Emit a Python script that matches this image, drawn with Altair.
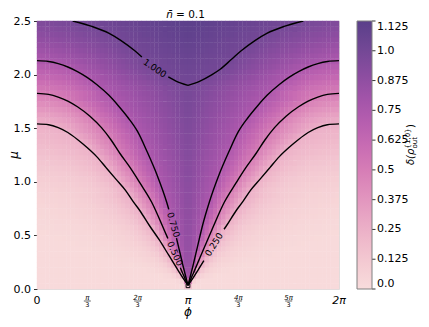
import math
import altair as alt
import pandas as pd

PI = math.pi

# ---------------- data ----------------
# heat values: rows are mu cell centres, columns are |phi - pi| cell centres in degrees
# (the field is mirror-symmetric about phi = pi)
mu_rows = [0.025, 0.075, 0.125, 0.175, 0.225, 0.275, 0.325, 0.375, 0.425, 0.475,
           0.525, 0.575, 0.625, 0.675, 0.725, 0.775, 0.825, 0.875, 0.925, 0.975,
           1.025, 1.075, 1.125, 1.175, 1.225, 1.275, 1.325, 1.375, 1.425, 1.475,
           1.525, 1.575, 1.625, 1.675, 1.725, 1.775, 1.825, 1.875, 1.925, 1.975,
           2.025, 2.075, 2.125, 2.175, 2.225, 2.275, 2.325, 2.375, 2.425, 2.475]
d_cols_deg = [2.5, 7.5, 12.5, 17.5, 22.5, 27.5, 32.5, 37.5, 42.5, 47.5, 52.5, 57.5,
              62.5, 67.5, 72.5, 77.5, 82.5, 87.5, 92.5, 97.5, 102.5, 107.5, 112.5, 117.5,
              122.5, 127.5, 132.5, 137.5, 142.5, 147.5, 152.5, 157.5, 162.5, 167.5, 172.5, 177.5]
heat_rows = [
    [0.15, 0.012] + [0.01] * 34,
    [0.50, 0.065, 0.024, 0.013] + [0.01] * 32,
    [0.771, 0.262, 0.103, 0.054, 0.033, 0.022, 0.015, 0.012] + [0.01] * 28,
    [0.81, 0.529, 0.227, 0.122, 0.075, 0.052, 0.037, 0.028, 0.021, 0.017, 0.014, 0.012, 0.011] + [0.01] * 23,
    [0.827, 0.675, 0.406, 0.213, 0.133, 0.09, 0.065, 0.051, 0.04, 0.031, 0.026, 0.021, 0.018, 0.015, 0.013,
     0.012, 0.011] + [0.01] * 19,
    [0.838, 0.754, 0.537, 0.335, 0.204, 0.14, 0.101, 0.076, 0.059, 0.05, 0.041, 0.033, 0.029, 0.024, 0.021,
     0.018, 0.016, 0.014, 0.013, 0.012, 0.011, 0.011] + [0.01] * 14,
    [0.845, 0.775, 0.631, 0.453, 0.289, 0.199, 0.146, 0.109, 0.086, 0.07, 0.057, 0.05, 0.042, 0.035, 0.031,
     0.027, 0.024, 0.021, 0.019, 0.017, 0.015, 0.014, 0.013, 0.012, 0.011, 0.011] + [0.01] * 10,
    [0.851, 0.79, 0.699, 0.54, 0.394, 0.254, 0.195, 0.148, 0.116, 0.095, 0.077, 0.064, 0.056, 0.049, 0.043,
     0.037, 0.033, 0.029, 0.026, 0.023, 0.021, 0.019, 0.017, 0.015, 0.014, 0.014, 0.013, 0.012, 0.012, 0.011,
     0.011, 0.01, 0.01, 0.01, 0.01, 0.01],
    [0.855, 0.802, 0.75, 0.612, 0.478, 0.35, 0.241, 0.192, 0.15, 0.123, 0.101, 0.083, 0.072, 0.061, 0.055,
     0.048, 0.043, 0.038, 0.034, 0.031, 0.028, 0.025, 0.022, 0.021, 0.019, 0.017, 0.016, 0.015, 0.014, 0.013,
     0.013, 0.012, 0.012, 0.011, 0.011, 0.01],
    [0.857, 0.811, 0.764, 0.665, 0.542, 0.429, 0.32, 0.234, 0.19, 0.152, 0.128, 0.106, 0.091, 0.077, 0.068,
     0.059, 0.054, 0.049, 0.044, 0.039, 0.035, 0.033, 0.029, 0.027, 0.024, 0.022, 0.021, 0.019, 0.018, 0.016,
     0.015, 0.015, 0.014, 0.013, 0.013, 0.012],
    [0.86, 0.824, 0.776, 0.708, 0.598, 0.49, 0.392, 0.294, 0.228, 0.189, 0.154, 0.132, 0.11, 0.096, 0.083,
     0.073, 0.064, 0.059, 0.053, 0.049, 0.044, 0.04, 0.036, 0.033, 0.03, 0.028, 0.026, 0.024, 0.022, 0.021,
     0.02, 0.019, 0.017, 0.016, 0.015, 0.015],
    [0.865, 0.826, 0.787, 0.744, 0.643, 0.543, 0.449, 0.36, 0.271, 0.223, 0.187, 0.155, 0.135, 0.115, 0.101,
     0.088, 0.077, 0.07, 0.062, 0.059, 0.053, 0.048, 0.044, 0.041, 0.037, 0.034, 0.032, 0.03, 0.027, 0.026,
     0.024, 0.022, 0.021, 0.02, 0.019, 0.018],
    [0.872, 0.836, 0.8, 0.762, 0.69, 0.6, 0.51, 0.428, 0.349, 0.269, 0.226, 0.193, 0.16, 0.142, 0.124,
     0.107, 0.097, 0.085, 0.078, 0.07, 0.063, 0.058, 0.054, 0.05, 0.046, 0.043, 0.039, 0.036, 0.034, 0.032,
     0.03, 0.028, 0.026, 0.024, 0.023, 0.021],
    [0.874, 0.84, 0.806, 0.772, 0.723, 0.64, 0.557, 0.478, 0.405, 0.331, 0.258, 0.224, 0.194, 0.164, 0.146,
     0.129, 0.112, 0.1, 0.092, 0.082, 0.075, 0.068, 0.061, 0.057, 0.054, 0.05, 0.047, 0.044, 0.041, 0.038,
     0.035, 0.033, 0.031, 0.029, 0.027, 0.026],
    [0.881, 0.85, 0.82, 0.79, 0.75, 0.674, 0.598, 0.52, 0.451, 0.384, 0.317, 0.249, 0.222, 0.195, 0.167,
     0.149, 0.134, 0.117, 0.104, 0.097, 0.087, 0.079, 0.072, 0.067, 0.061, 0.057, 0.054, 0.051, 0.048, 0.045,
     0.042, 0.039, 0.036, 0.034, 0.032, 0.03],
    [0.884, 0.854, 0.823, 0.792, 0.761, 0.71, 0.635, 0.563, 0.494, 0.431, 0.368, 0.305, 0.247, 0.222, 0.196,
     0.171, 0.151, 0.137, 0.123, 0.11, 0.101, 0.092, 0.084, 0.077, 0.071, 0.066, 0.06, 0.057, 0.054, 0.051,
     0.048, 0.046, 0.044, 0.042, 0.04, 0.039],
    [0.886, 0.857, 0.828, 0.799, 0.77, 0.731, 0.664, 0.599, 0.532, 0.471, 0.412, 0.353, 0.295, 0.244, 0.221,
     0.197, 0.174, 0.154, 0.141, 0.128, 0.114, 0.104, 0.097, 0.089, 0.081, 0.075, 0.07, 0.065, 0.06, 0.057,
     0.055, 0.052, 0.05, 0.048, 0.047, 0.046],
    [0.887, 0.86, 0.833, 0.806, 0.779, 0.752, 0.692, 0.63, 0.569, 0.507, 0.451, 0.397, 0.342, 0.287, 0.243,
     0.221, 0.198, 0.176, 0.156, 0.144, 0.132, 0.119, 0.107, 0.101, 0.094, 0.088, 0.079, 0.074, 0.069, 0.064,
     0.06, 0.058, 0.056, 0.054, 0.053, 0.052],
    [0.892, 0.867, 0.842, 0.817, 0.791, 0.766, 0.729, 0.671, 0.613, 0.555, 0.497, 0.442, 0.388, 0.333, 0.278,
     0.234, 0.206, 0.183, 0.163, 0.147, 0.133, 0.121, 0.111, 0.103, 0.096, 0.090, 0.086, 0.081, 0.078, 0.075,
     0.073, 0.071, 0.069, 0.068, 0.066, 0.065],
    [0.898, 0.874, 0.849, 0.825, 0.801, 0.777, 0.752, 0.701, 0.647, 0.593, 0.539, 0.486, 0.435, 0.384, 0.332,
     0.281, 0.238, 0.211, 0.188, 0.168, 0.152, 0.139, 0.128, 0.118, 0.110, 0.103, 0.098, 0.093, 0.089, 0.086,
     0.083, 0.080, 0.078, 0.077, 0.075, 0.074],
    [0.903, 0.88, 0.856, 0.833, 0.809, 0.786, 0.762, 0.727, 0.677, 0.627, 0.577, 0.527, 0.477, 0.429, 0.38,
     0.332, 0.283, 0.241, 0.215, 0.194, 0.175, 0.160, 0.147, 0.136, 0.127, 0.120, 0.113, 0.108, 0.104, 0.1,
     0.097, 0.094, 0.092, 0.09, 0.088, 0.087],
    [0.909, 0.886, 0.863, 0.841, 0.818, 0.795, 0.773, 0.75, 0.703, 0.657, 0.61, 0.563, 0.516, 0.47, 0.424,
     0.378, 0.332, 0.286, 0.244, 0.220, 0.199, 0.182, 0.168, 0.156, 0.146, 0.138, 0.130, 0.124, 0.119, 0.115,
     0.112, 0.109, 0.106, 0.104, 0.102, 0.101],
    [0.909, 0.888, 0.867, 0.846, 0.825, 0.804, 0.783, 0.762, 0.730, 0.685, 0.641, 0.596, 0.552, 0.508, 0.464,
     0.42, 0.376, 0.332, 0.288, 0.247, 0.224, 0.206, 0.19, 0.177, 0.165, 0.156, 0.148, 0.142, 0.136, 0.131,
     0.127, 0.124, 0.121, 0.119, 0.117, 0.116],
    [0.915, 0.894, 0.874, 0.854, 0.833, 0.813, 0.793, 0.773, 0.752, 0.712, 0.67, 0.628, 0.587, 0.545, 0.503,
     0.461, 0.418, 0.376, 0.334, 0.291, 0.249, 0.229, 0.212, 0.197, 0.185, 0.175, 0.167, 0.16, 0.153, 0.148,
     0.144, 0.141, 0.138, 0.135, 0.133, 0.131],
    [0.92, 0.9, 0.881, 0.861, 0.841, 0.822, 0.802, 0.782, 0.762, 0.736, 0.697, 0.657, 0.618, 0.579, 0.539,
     0.5, 0.458, 0.417, 0.376, 0.335, 0.294, 0.252, 0.233, 0.218, 0.205, 0.194, 0.185, 0.178, 0.171, 0.166,
     0.162, 0.158, 0.155, 0.152, 0.150, 0.148],
    [0.925, 0.906, 0.887, 0.868, 0.849, 0.83, 0.811, 0.792, 0.773, 0.753, 0.72, 0.682, 0.645, 0.608, 0.571,
     0.533, 0.496, 0.457, 0.419, 0.38, 0.341, 0.302, 0.264, 0.240, 0.226, 0.215, 0.205, 0.197, 0.19, 0.185,
     0.18, 0.176, 0.173, 0.17, 0.167, 0.165],
    [0.931, 0.912, 0.894, 0.875, 0.857, 0.838, 0.82, 0.801, 0.783, 0.764, 0.742, 0.706, 0.67, 0.634, 0.599,
     0.563, 0.527, 0.491, 0.455, 0.419, 0.383, 0.347, 0.312, 0.275, 0.246, 0.233, 0.222, 0.213, 0.206, 0.2,
     0.195, 0.191, 0.188, 0.185, 0.183, 0.181],
    [0.936, 0.918, 0.9, 0.882, 0.864, 0.847, 0.829, 0.811, 0.793, 0.775, 0.757, 0.729, 0.694, 0.659, 0.625,
     0.59, 0.555, 0.52, 0.487, 0.454, 0.421, 0.389, 0.356, 0.323, 0.291, 0.258, 0.241, 0.231, 0.223, 0.216,
     0.211, 0.207, 0.204, 0.201, 0.199, 0.197],
    [0.941, 0.924, 0.907, 0.889, 0.872, 0.854, 0.837, 0.82, 0.802, 0.785, 0.768, 0.75, 0.717, 0.683, 0.65,
     0.617, 0.584, 0.551, 0.518, 0.486, 0.456, 0.426, 0.397, 0.367, 0.337, 0.307, 0.277, 0.249, 0.240, 0.233,
     0.227, 0.223, 0.22, 0.217, 0.215, 0.214],
    [0.946, 0.93, 0.913, 0.896, 0.879, 0.862, 0.845, 0.828, 0.811, 0.794, 0.777, 0.76, 0.738, 0.707, 0.675,
     0.643, 0.612, 0.58, 0.549, 0.517, 0.487, 0.461, 0.434, 0.407, 0.381, 0.354, 0.327, 0.301, 0.274, 0.249,
     0.243, 0.238, 0.234, 0.230, 0.228, 0.227],
    [0.952, 0.936, 0.92, 0.904, 0.887, 0.871, 0.855, 0.839, 0.823, 0.807, 0.791, 0.774, 0.758, 0.735, 0.704,
     0.673, 0.643, 0.612, 0.581, 0.55, 0.52, 0.488, 0.456, 0.425, 0.398, 0.372, 0.349, 0.328, 0.31, 0.294,
     0.28, 0.268, 0.259, 0.252, 0.248, 0.245],
    [0.957, 0.942, 0.926, 0.911, 0.895, 0.88, 0.865, 0.849, 0.834, 0.818, 0.803, 0.787, 0.772, 0.756, 0.732,
     0.703, 0.673, 0.644, 0.615, 0.586, 0.556, 0.527, 0.498, 0.467, 0.438, 0.412, 0.388, 0.366, 0.347, 0.331,
     0.316, 0.304, 0.295, 0.287, 0.283, 0.28],
    [0.963, 0.948, 0.933, 0.918, 0.903, 0.888, 0.874, 0.859, 0.844, 0.829, 0.814, 0.799, 0.785, 0.77, 0.755,
     0.731, 0.704, 0.676, 0.648, 0.62, 0.592, 0.564, 0.537, 0.509, 0.48, 0.454, 0.429, 0.408, 0.388, 0.371,
     0.357, 0.344, 0.335, 0.328, 0.323, 0.32],
    [0.968, 0.954, 0.94, 0.926, 0.911, 0.897, 0.883, 0.869, 0.855, 0.841, 0.827, 0.812, 0.798, 0.784, 0.77,
     0.756, 0.734, 0.708, 0.682, 0.656, 0.63, 0.604, 0.578, 0.552, 0.526, 0.5, 0.476, 0.454, 0.434, 0.417,
     0.402, 0.39, 0.38, 0.373, 0.368, 0.365],
    [0.973, 0.96, 0.946, 0.933, 0.919, 0.906, 0.892, 0.879, 0.865, 0.852, 0.838, 0.824, 0.811, 0.797, 0.784,
     0.77, 0.757, 0.737, 0.713, 0.689, 0.665, 0.642, 0.618, 0.594, 0.57, 0.546, 0.522, 0.499, 0.479, 0.462,
     0.447, 0.435, 0.425, 0.418, 0.413, 0.41],
    [0.978, 0.965, 0.953, 0.94, 0.926, 0.913, 0.9, 0.888, 0.874, 0.861, 0.849, 0.835, 0.822, 0.809, 0.797,
     0.783, 0.77, 0.757, 0.742, 0.721, 0.7, 0.679, 0.658, 0.637, 0.616, 0.595, 0.574, 0.553, 0.532, 0.511,
     0.493, 0.48, 0.47, 0.463, 0.458, 0.455],
    [0.984, 0.971, 0.959, 0.947, 0.934, 0.922, 0.909, 0.897, 0.885, 0.872, 0.86, 0.847, 0.835, 0.823, 0.81,
     0.798, 0.786, 0.773, 0.761, 0.746, 0.717, 0.69, 0.665, 0.641, 0.62, 0.6, 0.581, 0.565, 0.551, 0.538,
     0.527, 0.518, 0.511, 0.506, 0.502, 0.5],
    [0.989, 0.977, 0.966, 0.954, 0.942, 0.93, 0.918, 0.907, 0.895, 0.883, 0.871, 0.859, 0.848, 0.836, 0.824,
     0.812, 0.801, 0.789, 0.777, 0.765, 0.753, 0.732, 0.706, 0.682, 0.661, 0.641, 0.622, 0.606, 0.591, 0.579,
     0.568, 0.558, 0.551, 0.546, 0.542, 0.54],
    [1.004, 1.001, 0.991, 0.979, 0.967, 0.955, 0.943, 0.931, 0.918, 0.906, 0.894, 0.882, 0.87, 0.858, 0.846,
     0.833, 0.821, 0.809, 0.797, 0.785, 0.773, 0.761, 0.747, 0.723, 0.701, 0.681, 0.662, 0.646, 0.632, 0.619,
     0.608, 0.598, 0.591, 0.586, 0.582, 0.58],
    [1.013, 1.01, 1.007, 1.003, 1.0, 0.988, 0.975, 0.962, 0.949, 0.937, 0.924, 0.911, 0.898, 0.886, 0.873,
     0.86, 0.847, 0.834, 0.822, 0.809, 0.796, 0.783, 0.771, 0.758, 0.742, 0.722, 0.704, 0.688, 0.674, 0.661,
     0.65, 0.641, 0.634, 0.629, 0.625, 0.623],
    [1.023, 1.019, 1.016, 1.012, 1.008, 1.004, 1.001, 0.99, 0.977, 0.964, 0.951, 0.938, 0.925, 0.913, 0.9,
     0.887, 0.874, 0.861, 0.849, 0.836, 0.823, 0.81, 0.798, 0.785, 0.772, 0.759, 0.745, 0.729, 0.715, 0.703,
     0.692, 0.683, 0.676, 0.671, 0.667, 0.665],
    [1.033, 1.029, 1.025, 1.02, 1.016, 1.012, 1.008, 1.004, 0.999, 0.987, 0.975, 0.962, 0.95, 0.938, 0.926,
     0.914, 0.901, 0.889, 0.877, 0.865, 0.853, 0.841, 0.829, 0.816, 0.804, 0.792, 0.78, 0.768, 0.755, 0.743,
     0.732, 0.723, 0.716, 0.711, 0.707, 0.705],
    [1.043, 1.038, 1.034, 1.029, 1.025, 1.02, 1.015, 1.011, 1.006, 1.002, 0.992, 0.98, 0.967, 0.955, 0.943,
     0.931, 0.919, 0.908, 0.896, 0.885, 0.874, 0.864, 0.853, 0.843, 0.833, 0.823, 0.813, 0.804, 0.795, 0.787,
     0.779, 0.771, 0.764, 0.757, 0.751, 0.747],
    [1.053, 1.048, 1.043, 1.038, 1.033, 1.028, 1.023, 1.019, 1.014, 1.009, 1.004, 0.998, 0.986, 0.975, 0.964,
     0.953, 0.942, 0.931, 0.921, 0.91, 0.9, 0.89, 0.88, 0.871, 0.861, 0.852, 0.843, 0.835, 0.827, 0.819,
     0.811, 0.804, 0.797, 0.791, 0.786, 0.781],
    [1.062, 1.057, 1.052, 1.047, 1.042, 1.037, 1.032, 1.027, 1.022, 1.017, 1.012, 1.006, 1.001, 0.992, 0.982,
     0.972, 0.961, 0.951, 0.941, 0.932, 0.922, 0.913, 0.904, 0.895, 0.886, 0.878, 0.869, 0.861, 0.854, 0.846,
     0.839, 0.833, 0.826, 0.82, 0.816, 0.811],
    [1.072, 1.067, 1.062, 1.057, 1.052, 1.047, 1.041, 1.036, 1.031, 1.026, 1.021, 1.015, 1.01, 1.005, 1.0,
     0.99, 0.981, 0.972, 0.962, 0.953, 0.944, 0.936, 0.927, 0.919, 0.911, 0.903, 0.895, 0.888, 0.881, 0.874,
     0.867, 0.861, 0.855, 0.85, 0.845, 0.841],
    [1.082, 1.077, 1.072, 1.067, 1.061, 1.056, 1.051, 1.046, 1.04, 1.035, 1.03, 1.025, 1.02, 1.014, 1.009,
     1.004, 0.998, 0.989, 0.981, 0.973, 0.965, 0.957, 0.949, 0.942, 0.934, 0.927, 0.92, 0.913, 0.907, 0.901,
     0.895, 0.889, 0.884, 0.879, 0.875, 0.871],
    [1.092, 1.087, 1.082, 1.077, 1.072, 1.067, 1.061, 1.056, 1.051, 1.046, 1.041, 1.035, 1.03, 1.025, 1.02,
     1.015, 1.01, 1.004, 0.999, 0.991, 0.984, 0.976, 0.969, 0.962, 0.955, 0.949, 0.942, 0.936, 0.93, 0.924,
     0.918, 0.913, 0.908, 0.903, 0.899, 0.896],
    [1.103, 1.098, 1.093, 1.088, 1.083, 1.078, 1.073, 1.068, 1.063, 1.058, 1.053, 1.048, 1.043, 1.039, 1.034,
     1.029, 1.024, 1.019, 1.014, 1.009, 1.004, 0.999, 0.992, 0.985, 0.978, 0.972, 0.966, 0.959, 0.953, 0.948,
     0.942, 0.937, 0.932, 0.928, 0.924, 0.921],
    [1.113, 1.108, 1.104, 1.099, 1.094, 1.09, 1.085, 1.081, 1.076, 1.072, 1.067, 1.063, 1.058, 1.053, 1.049,
     1.044, 1.04, 1.035, 1.031, 1.026, 1.021, 1.017, 1.012, 1.008, 1.003, 0.998, 0.992, 0.985, 0.979, 0.973,
     0.968, 0.963, 0.958, 0.953, 0.949, 0.946],
]

# contour lines: (|phi - pi|, mu) points
contour_025 = [(3.1416, 1.54), (2.9, 1.532), (2.7, 1.505), (2.5, 1.46), (2.3, 1.395), (2.1, 1.32), (1.9, 1.235),
               (1.7, 1.13), (1.5, 1.025), (1.3, 0.92), (1.14, 0.815), (1.0, 0.73), (0.8, 0.59), (0.6, 0.46),
               (0.4, 0.315), (0.2, 0.17), (0.1, 0.1), (0.0, 0.035)]
contour_050 = [(3.1416, 1.825), (2.9, 1.815), (2.7, 1.79), (2.5, 1.753), (2.3, 1.70), (2.04, 1.612), (1.8, 1.505),
               (1.6, 1.39), (1.415, 1.264), (1.2, 1.13), (1.0, 0.99), (0.755, 0.809), (0.5, 0.555), (0.27, 0.315),
               (0.1, 0.135), (0.0, 0.035)]
contour_075 = [(3.1416, 2.13), (2.9, 2.122), (2.7, 2.102), (2.5, 2.071), (2.3, 2.028), (2.1, 1.974), (1.9, 1.908),
               (1.65, 1.809), (1.45, 1.71), (1.25, 1.60), (1.05, 1.47), (0.85, 1.28), (0.65, 1.07), (0.443, 0.809),
               (0.305, 0.597), (0.2, 0.40), (0.1, 0.21), (0.0, 0.035)]
contour_100 = [(2.4, 2.5), (2.0, 2.45), (1.64, 2.385), (1.4, 2.32), (1.1, 2.22), (0.9, 2.14), (0.67, 2.05),
               (0.5, 2.0), (0.25, 1.94), (0.0, 1.9)]

# (level, side, points, gap left for the inline label: ((d_hi, mu_hi), (d_lo, mu_lo)) or None)
contour_branches = [
    ("0.25", -1, contour_025, None),
    ("0.25", +1, contour_025, ((0.75, 0.5575), (0.33, 0.264))),
    ("0.50", -1, contour_050, ((0.42, 0.472), (0.16, 0.198))),
    ("0.50", +1, contour_050, None),
    ("0.75", -1, contour_075, ((0.40, 0.743), (0.24, 0.475))),
    ("0.75", +1, contour_075, None),
    ("1.00", -1, contour_100, ((0.96, 2.164), (0.41, 1.978))),
    ("1.00", +1, contour_100, None),
]

# inline contour labels: phi offset from pi, mu, text, angle
clabel_d = [-0.69, -0.305, -0.27, 0.54]
clabel_mu = [2.06, 0.60, 0.33, 0.415]
clabel_txt = ["1.000", "0.750", "0.500", "0.250"]
clabel_ang = [34, 74, 66, 302]

x_tick_vals = [0, PI / 3, 2 * PI / 3, PI, 4 * PI / 3, 5 * PI / 3, 2 * PI]
x_main_lbl = [(0, "0", "normal"), (PI, "π", "italic"), (2 * PI, "2π", "italic")]
x_frac_num = [(PI / 3, "π"), (2 * PI / 3, "2π"), (4 * PI / 3, "4π"), (5 * PI / 3, "5π")]
y_tick_vals = [0.0, 0.5, 1.0, 1.5, 2.0, 2.5]

cbar_vals = [0, 0.125, 0.25, 0.375, 0.5, 0.625, 0.75, 0.875, 1.0, 1.125]
cbar_cols = ["#f8dcdc", "#f3c8d2", "#ecb0c8", "#e296bf", "#d67db6", "#c468b2",
             "#ad58ad", "#914ea2", "#744896", "#5a3f8a"]

# ---------------- layout ----------------
W, H = 302, 268
FONT = "DejaVu Sans"

# ---------------- build tables ----------------
cw = PI / 36
ch = 0.05
recs = []
for mu, row in zip(mu_rows, heat_rows):
    for dd, v in zip(d_cols_deg, row):
        d = math.radians(dd)
        for phi in (PI - d, PI + d):
            recs.append(dict(x0=phi - cw / 2 - 0.004, x1=phi + cw / 2 + 0.004,
                             y0=mu - ch / 2 - 0.002, y1=mu + ch / 2 + 0.002, v=v))
heat = pd.DataFrame(recs)

lrec = []
for lvl, side, pts, gap in contour_branches:
    if gap is None:
        segs = [pts]
    else:
        (dh, mh), (dl, ml) = gap
        segs = [[p for p in pts if p[0] >= dh] + [(dh, mh)], [(dl, ml)] + [p for p in pts if p[0] <= dl]]
    for j, seg in enumerate(segs):
        for d, mu in seg:
            lrec.append(dict(phi=PI + side * d, mu=mu, seg=f"{lvl}_{side}_{j}"))
cdf = pd.DataFrame(lrec)

ldf = pd.DataFrame(dict(phi=[PI + d for d in clabel_d], mu=clabel_mu, t=clabel_txt, a=clabel_ang))

xs = alt.Scale(domain=[0, 2 * PI], nice=False, zero=False)
ys = alt.Scale(domain=[0, 2.5], nice=False, zero=False)
cs = alt.Scale(domain=cbar_vals, range=cbar_cols, clamp=True)

heat_layer = alt.Chart(heat).mark_rect(strokeWidth=0).encode(
    x=alt.X("x0:Q", scale=xs, axis=alt.Axis(values=x_tick_vals, labels=False, ticks=True, tickSize=3.5,
                                            tickColor="black", tickWidth=0.8, domain=False, grid=False, title=None)),
    x2="x1:Q",
    y=alt.Y("y0:Q", scale=ys, axis=alt.Axis(values=y_tick_vals, format=".1f", labelFont=FONT, labelFontSize=11,
                                            labelColor="black", tickSize=3.5, tickColor="black", tickWidth=0.8,
                                            labelPadding=3, domain=False, grid=False, title=None)),
    y2="y1:Q",
    color=alt.Color("v:Q", scale=cs, legend=alt.Legend(
        values=cbar_vals, title=None, orient="right", direction="vertical", gradientLength=H,
        gradientThickness=15, offset=18, padding=0, labelFont=FONT, labelFontSize=11, labelColor="black",
        labelOffset=5, labelBaseline="middle", labelOverlap=False,
        gradientStrokeColor="#808080", gradientStrokeWidth=1,
        labelExpr="datum.value == 0 ? '0.0' : datum.value == 1 ? '1.0' : toString(datum.value)")),
)

lines = alt.Chart(cdf).mark_line(color="black", strokeWidth=1.4, interpolate="monotone", clip=True).encode(
    x=alt.X("phi:Q", scale=xs, axis=None), y=alt.Y("mu:Q", scale=ys, axis=None),
    detail="seg:N", order="phi:Q")

clabels = alt.Chart(ldf).mark_text(font=FONT, fontSize=9, color="black").encode(
    x=alt.X("phi:Q", scale=xs, axis=None), y=alt.Y("mu:Q", scale=ys, axis=None), text="t:N",
    angle=alt.Angle("a:Q", scale=None))

vertex = alt.Chart(pd.DataFrame(dict(phi=[PI], mu=[0.03]))).mark_point(
    shape="square", filled=False, size=14, color="black", strokeWidth=1, opacity=1).encode(
    x=alt.X("phi:Q", scale=xs, axis=None), y=alt.Y("mu:Q", scale=ys, axis=None))

# colour-bar ticks on the right edge of the gradient
cbar_ticks = alt.Chart(pd.DataFrame(dict(v=cbar_vals))).mark_rule(color="black", strokeWidth=0.8).encode(
    x=alt.value(W + 18 + 15), x2=alt.value(W + 18 + 15 + 3.5),
    y=alt.Y("v:Q", scale=alt.Scale(domain=[0, 1.125], range=[H, 0], nice=False, zero=False), axis=None))

main_df = pd.DataFrame(dict(phi=[p for p, _, _ in x_main_lbl], t=[t for _, t, _ in x_main_lbl],
                            s=[s for _, _, s in x_main_lbl]))
xl_up = alt.Chart(main_df[main_df.s == "normal"]).mark_text(font=FONT, fontSize=11, color="black",
                                                           baseline="alphabetic").encode(
    x=alt.X("phi:Q", scale=xs, axis=None), y=alt.value(H + 14.5), text="t:N")
xl_it = alt.Chart(main_df[main_df.s == "italic"]).mark_text(font=FONT, fontSize=11, fontStyle="italic",
                                                           color="black", baseline="alphabetic").encode(
    x=alt.X("phi:Q", scale=xs, axis=None), y=alt.value(H + 14.5), text="t:N")
frac_df = pd.DataFrame(dict(phi=[p for p, _ in x_frac_num], t=[t for _, t in x_frac_num], den=["3"] * 4))
xl_num = alt.Chart(frac_df).mark_text(font=FONT, fontSize=7, fontStyle="italic", color="black",
                                      baseline="alphabetic").encode(
    x=alt.X("phi:Q", scale=xs, axis=None), y=alt.value(H + 11), text="t:N")
xl_den = alt.Chart(frac_df).mark_text(font=FONT, fontSize=6.5, color="black", baseline="top").encode(
    x=alt.X("phi:Q", scale=xs, axis=None), y=alt.value(H + 12.6), text="den:N")
xl_bar = alt.Chart(frac_df).mark_rule(color="black", strokeWidth=0.6, xOffset=-3.5, x2Offset=3.5).encode(
    x=alt.X("phi:Q", scale=xs, axis=None), x2="phi:Q", y=alt.value(H + 12))


def txt(s, x, y, **kw):
    return alt.Chart(pd.DataFrame(dict(t=[s]))).mark_text(font=FONT, color="black", **kw).encode(
        x=alt.value(x), y=alt.value(y), text="t:N")


title_n = txt("n\u0304", 136, -3, fontSize=10.5, fontStyle="italic", align="right", baseline="alphabetic")
title_v = txt("= 0.1", 139, -3, fontSize=10.5, align="left", baseline="alphabetic")
ytitle = txt("μ", -19, H / 2, fontSize=12, fontStyle="italic", angle=270, align="center", baseline="alphabetic")
xtitle = txt("ϕ", W / 2, H + 27, fontSize=12, fontStyle="italic", align="center", baseline="alphabetic")
ct_main = txt("δ(ρ", 377, 144, fontSize=10, fontStyle="italic", angle=270, align="left", baseline="alphabetic")
ct_sup = txt("{1,0}", 373, 127.5, fontSize=7, angle=270, align="left", baseline="alphabetic")
ct_sub = txt("out", 379.5, 127.5, fontSize=7, angle=270, align="left", baseline="alphabetic")
ct_close = txt(")", 377, 107, fontSize=10, angle=270, align="left", baseline="alphabetic")

chart = alt.layer(
    heat_layer, lines, clabels, vertex, cbar_ticks, xl_up, xl_it, xl_num, xl_den, xl_bar,
    title_n, title_v, ytitle, xtitle, ct_main, ct_sup, ct_sub, ct_close,
).resolve_scale(y="independent").properties(
    width=W, height=H,
    autosize=alt.AutoSizeParams(type="none"),
    padding={"left": 29, "top": 13, "right": 82, "bottom": 30},
).configure_view(stroke="#808080", strokeWidth=1).configure(background="white")

chart.save("out.html", embed_options={"renderer": "svg", "actions": False})
